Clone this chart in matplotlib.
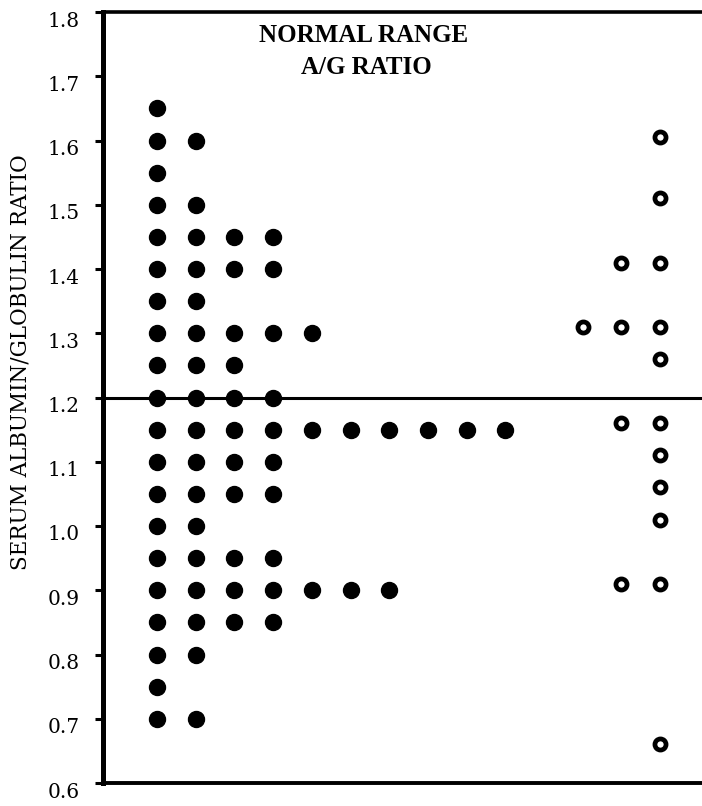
import matplotlib
matplotlib.use("Agg")
import matplotlib.pyplot as plt
import matplotlib.transforms as mtransforms

# A/G ratio values (rows) and how many patients in each row (filled dots)
filled_ratio = [1.65, 1.60, 1.55, 1.50, 1.45, 1.40, 1.35, 1.30, 1.25, 1.20,
                1.15, 1.10, 1.05, 1.00, 0.95, 0.90, 0.85, 0.80, 0.75, 0.70]
filled_count = [1, 2, 1, 2, 4, 4, 2, 5, 3, 4,
                10, 4, 4, 2, 4, 7, 4, 2, 1, 2]

# open circles: ratio and number of circles (right aligned to last column)
open_ratio = [1.605, 1.51, 1.41, 1.31, 1.26, 1.16, 1.11, 1.06, 1.01, 0.91, 0.66]
open_count = [1, 1, 2, 3, 1, 2, 1, 1, 1, 2, 1]
open_last_col = 14

yticks = [0.6, 0.7, 0.8, 0.9, 1.0, 1.1, 1.2, 1.3, 1.4, 1.5, 1.6, 1.7, 1.8]
normal_line = 1.2

plt.rcParams["font.family"] = ["DejaVu Serif"]

fig = plt.figure(figsize=(7.02, 8.06), dpi=100)
ax = fig.add_axes([103 / 702, 23 / 806, 599 / 702, 771 / 806])

fx, fy = [], []
for r, n in zip(filled_ratio, filled_count):
    for i in range(n):
        fx.append(i + 1)
        fy.append(r)
ax.plot(fx, fy, "o", color="black", markersize=11.5, linestyle="none")

ox, oy = [], []
for r, n in zip(open_ratio, open_count):
    for i in range(n):
        ox.append(open_last_col - i)
        oy.append(r)
ax.plot(ox, oy, "o", markerfacecolor="white", markeredgecolor="black",
        markersize=8, markeredgewidth=3.4, linestyle="none")

ax.axhline(normal_line, color="black", linewidth=2.2)

ax.set_xlim(-0.395, 15.08)
ax.set_ylim(0.6, 1.8)
ax.set_yticks(yticks)
ax.set_yticklabels(["%.1f" % t for t in yticks])
ax.set_xticks([])

ax.spines["right"].set_visible(False)
ax.spines["left"].set_linewidth(3.6)
ax.spines["top"].set_linewidth(2.6)
ax.spines["bottom"].set_linewidth(2.8)
ax.tick_params(axis="y", direction="out", length=6, width=2.2, pad=11,
               labelsize=14.5, color="black")

# labels sit a bit below their ticks in the original
offset = mtransforms.ScaledTranslation(0, -7 / 100, fig.dpi_scale_trans)
for lab in ax.get_yticklabels():
    lab.set_transform(lab.get_transform() + offset)

fig.text(21 / 702, 1 - 362 / 806, "SERUM ALBUMIN/GLOBULIN RATIO",
         rotation=90, ha="center", va="center", fontsize=15.5)

fig.text(364 / 702, 1 - 36 / 806, "NORMAL RANGE", ha="center", va="center",
         fontsize=18, fontweight="bold", family="Liberation Serif")
fig.text(366 / 702, 1 - 68 / 806, "A/G RATIO", ha="center", va="center",
         fontsize=18, fontweight="bold", family="Liberation Serif")

fig.savefig("out.png", dpi=100)
